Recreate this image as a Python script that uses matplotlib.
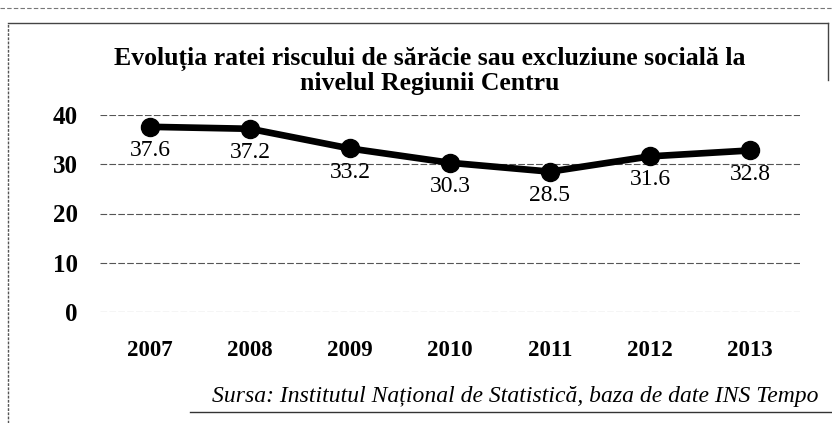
import matplotlib.pyplot as plt
from matplotlib.lines import Line2D

years = ['2007', '2008', '2009', '2010', '2011', '2012', '2013']
rata = [37.6, 37.2, 33.2, 30.3, 28.5, 31.6, 32.8]
yticks = [0, 10, 20, 30, 40]

plt.rcParams['font.family'] = ['Liberation Serif', 'DejaVu Serif']

fig = plt.figure(figsize=(8.32, 4.23), dpi=100)
ax = fig.add_axes([100 / 832, 1 - 312 / 423, 700 / 832, 197 / 423])

x = range(len(years))
ax.plot(x, rata, color='black', lw=4.8, marker='o', markersize=13, zorder=3)
for i, v in zip(x, rata):
    ax.annotate(f'{v}', (i, v), xytext=(0, -17), textcoords='offset points',
                ha='center', va='center', fontsize=17)

ax.set_xlim(-0.5, len(years) - 0.5)
ax.set_ylim(0, 40)
ax.set_yticks(yticks)
ax.set_xticks(list(x))
ax.set_xticklabels(years)
ax.tick_params(length=0)
ax.tick_params(axis='y', pad=16, labelsize=18)
ax.tick_params(axis='x', pad=20, labelsize=16.5)
for lab in ax.get_xticklabels() + ax.get_yticklabels():
    lab.set_fontweight('bold')
ax.grid(axis='y', color='#555555', lw=0.8, linestyle=(0, (6, 2)))
for s in ax.spines.values():
    s.set_visible(False)

fig.text(430 / 832, 1 - 71 / 423,
         'Evoluția ratei riscului de sărăcie sau excluziune socială la\nnivelul Regiunii Centru',
         ha='center', va='center', fontsize=18.5, fontweight='bold', linespacing=1.05)

fig.text(818 / 832, 1 - 396 / 423,
         'Sursa: Institutul Național de Statistică, baza de date INS Tempo',
         ha='right', va='center', fontsize=17, style='italic')

# chenarul graficului si linii de pagina
fig.add_artist(Line2D([190 / 832, 1], [1 - 412 / 423] * 2, color='#333333', lw=1))
fig.add_artist(Line2D([8 / 832, 828 / 832], [1 - 23 / 423] * 2, color='#444444', lw=1))
fig.add_artist(Line2D([828 / 832, 828 / 832], [1 - 80 / 423, 1 - 23 / 423],
                      color='#444444', lw=1))
fig.add_artist(Line2D([8 / 832, 8 / 832], [0, 1 - 23 / 423], color='#555555', lw=1,
                      linestyle=(0, (2, 1))))
fig.add_artist(Line2D([0, 1], [1 - 8 / 423] * 2, color='#777777', lw=0.8,
                      linestyle=(0, (4, 2))))

fig.savefig('out.png', dpi=100)
